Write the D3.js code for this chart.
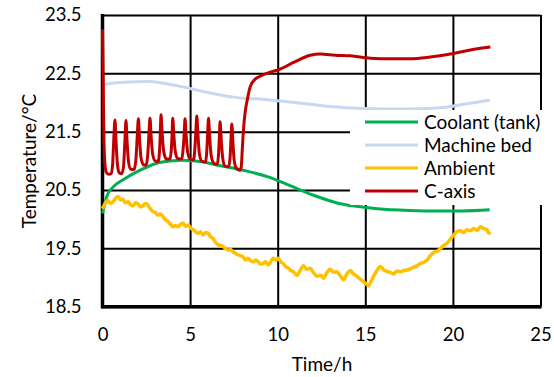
<!DOCTYPE html>
<html>
<head>
<meta charset="utf-8">
<script src="https://cdn.jsdelivr.net/npm/d3@7"></script>
<style>
  body { margin: 0; background: #fff; }
  svg text { font-family: "Lato", "Liberation Sans", sans-serif; fill: #000; }
</style>
</head>
<body>
<svg width="554" height="377"></svg>
<script>
// tick labels
const xTicks = [0, 5, 10, 15, 20, 25];
const yTicks = [18.5, 19.5, 20.5, 21.5, 22.5, 23.5];

const seriesNames = ["Coolant (tank)", "Machine bed", "Ambient", "C-axis"];

// [time h, temperature °C]
const coolant = [
    [0, 20.10], [0.1, 20.22], [0.24, 20.39], [0.6, 20.55], [1.2, 20.68], [2.15, 20.84],
    [3.1, 20.96], [4.0, 21.0], [4.4, 21.01], [5.57, 20.99], [6.5, 20.93], [7.7, 20.86],
    [8.3, 20.82], [9.5, 20.72], [10.5, 20.6], [12.05, 20.41], [13.5, 20.27], [14.5, 20.22],
    [15.7, 20.18], [17.5, 20.15], [19.3, 20.14], [20.5, 20.14], [22.1, 20.16]
];

const machineBed = [
    [0, 22.30], [0.5, 22.33], [1.5, 22.35], [2.6, 22.36], [3.5, 22.33], [5.0, 22.24],
    [6.0, 22.17], [7.3, 22.10], [8.1, 22.07], [9.0, 22.06], [10.0, 22.03], [11.9, 21.97],
    [13.0, 21.93], [14.0, 21.91], [15.8, 21.89], [17.6, 21.89], [19.6, 21.92], [20.8, 21.98],
    [22.1, 22.04]
];

const ambient = [
    [0, 20.18], [0.15, 20.27], [0.31, 20.32], [0.45, 20.27], [0.6, 20.30], [0.75, 20.36],
    [0.89, 20.39], [1.03, 20.33], [1.17, 20.34], [1.3, 20.28], [1.46, 20.30], [1.6, 20.25],
    [1.74, 20.23], [1.9, 20.28], [2.03, 20.26], [2.17, 20.21], [2.31, 20.23], [2.45, 20.27],
    [2.6, 20.24], [2.75, 20.17], [2.89, 20.13], [3.03, 20.11], [3.17, 20.07], [3.3, 20.09],
    [3.46, 20.04], [3.6, 19.99], [3.74, 19.96], [3.88, 19.91], [4.03, 19.87], [4.17, 19.89],
    [4.31, 19.87], [4.45, 19.91], [4.6, 19.93], [4.75, 19.88], [4.89, 19.90], [5.03, 19.85],
    [5.17, 19.82], [5.3, 19.79], [5.46, 19.76], [5.6, 19.78], [5.74, 19.73], [5.88, 19.77],
    [6.03, 19.76], [6.17, 19.70], [6.31, 19.67], [6.45, 19.60], [6.6, 19.56], [6.75, 19.55],
    [6.89, 19.53], [7.03, 19.49], [7.17, 19.47], [7.3, 19.48], [7.46, 19.44], [7.6, 19.41],
    [7.74, 19.39], [7.9, 19.37], [8.03, 19.35], [8.17, 19.30], [8.31, 19.33], [8.45, 19.29],
    [8.6, 19.27], [8.75, 19.30], [8.89, 19.27], [9.03, 19.23], [9.17, 19.24], [9.3, 19.27],
    [9.46, 19.22], [9.6, 19.27], [9.74, 19.33], [9.88, 19.30], [10.03, 19.33], [10.17, 19.27],
    [10.31, 19.24], [10.45, 19.19], [10.6, 19.16], [10.75, 19.12], [10.89, 19.10], [11.1, 19.04],
    [11.3, 19.13], [11.47, 19.20], [11.66, 19.14], [11.86, 19.16], [12.05, 19.08], [12.24, 19.02],
    [12.45, 19.04], [12.62, 18.99], [12.8, 19.08], [13.0, 19.14], [13.2, 19.09], [13.38, 19.10],
    [13.57, 19.03], [13.76, 18.96], [13.95, 19.06], [14.14, 19.12], [14.33, 19.06], [14.53, 19.02],
    [14.72, 18.97], [14.9, 18.93], [15.05, 18.89], [15.19, 18.86], [15.33, 18.94], [15.47, 19.02],
    [15.66, 19.12], [15.86, 19.19], [16.05, 19.13], [16.24, 19.10], [16.43, 19.09], [16.62, 19.06],
    [16.8, 19.11], [17.0, 19.10], [17.2, 19.12], [17.38, 19.13], [17.57, 19.15], [17.76, 19.18],
    [17.95, 19.20], [18.14, 19.24], [18.33, 19.26], [18.53, 19.30], [18.7, 19.37], [18.9, 19.43],
    [19.1, 19.45], [19.29, 19.50], [19.48, 19.55], [19.67, 19.59], [19.86, 19.66], [20.05, 19.73],
    [20.24, 19.79], [20.43, 19.80], [20.62, 19.77], [20.81, 19.82], [21.0, 19.80], [21.19, 19.84],
    [21.38, 19.81], [21.57, 19.87], [21.76, 19.84], [21.95, 19.82], [22.05, 19.76], [22.14, 19.78]
];

const cAxis = [
    [0, 23.25], [0.04, 22.4], [0.08, 21.4], [0.14, 20.95], [0.22, 20.8], [0.35, 20.77],
    [0.5, 20.78], [0.58, 20.95], [0.65, 21.4], [0.71, 21.70], [0.77, 21.35], [0.85, 20.95],
    [0.95, 20.8], [1.1, 20.78], [1.2, 20.9], [1.28, 21.35], [1.34, 21.69], [1.40, 21.35],
    [1.48, 21.0], [1.6, 20.86], [1.8, 20.85], [1.9, 21.0], [1.98, 21.4], [2.05, 21.72],
    [2.11, 21.4], [2.2, 21.05], [2.35, 20.93], [2.5, 20.93], [2.58, 21.1], [2.65, 21.45],
    [2.71, 21.73], [2.77, 21.45], [2.86, 21.12], [3.0, 21.0], [3.18, 20.99], [3.26, 21.2],
    [3.3, 21.5], [3.34, 21.79], [3.40, 21.5], [3.5, 21.15], [3.65, 21.03], [3.85, 21.03],
    [3.93, 21.2], [3.97, 21.45], [4.01, 21.73], [4.07, 21.45], [4.16, 21.15], [4.3, 21.04],
    [4.53, 21.03], [4.6, 21.2], [4.66, 21.45], [4.71, 21.72], [4.77, 21.45], [4.86, 21.15],
    [5.0, 21.03], [5.2, 21.02], [5.27, 21.2], [5.33, 21.5], [5.38, 21.77], [5.44, 21.5],
    [5.53, 21.12], [5.68, 20.99], [5.88, 20.98], [5.95, 21.15], [6.0, 21.45], [6.05, 21.73],
    [6.11, 21.45], [6.2, 21.1], [6.35, 20.96], [6.55, 20.94], [6.62, 21.1], [6.67, 21.4],
    [6.71, 21.67], [6.77, 21.4], [6.86, 21.05], [7.0, 20.91], [7.2, 20.9], [7.28, 21.05],
    [7.33, 21.35], [7.38, 21.63], [7.44, 21.35], [7.52, 21.0], [7.65, 20.87], [7.85, 20.84],
    [7.92, 20.9], [7.98, 21.2], [8.05, 21.55], [8.15, 21.85], [8.26, 22.04], [8.43, 22.27],
    [8.71, 22.40], [9.0, 22.45], [9.57, 22.52], [10.03, 22.56], [11.0, 22.70], [11.86, 22.81],
    [12.43, 22.83], [13.29, 22.81], [14.14, 22.80], [15.29, 22.76], [16.43, 22.75], [17.57, 22.75],
    [18.71, 22.78], [20.03, 22.84], [21.0, 22.90], [22.14, 22.95]
];

const colors = ["#00B050", "#C6D9F1", "#FFC000", "#C00000"];

var svg = d3.select("svg");
var x = d3.scaleLinear().domain([0, 25]).range([102.5, 540.5]);
var y = d3.scaleLinear().domain([18.5, 23.5]).range([306.7, 15]);

// grid + labels
svg.append("g")
    .attr("transform", "translate(" + x(0) + ",0)")
    .call(d3.axisLeft(y).tickValues(yTicks).tickSize(-(x(25) - x(0))).tickPadding(21)
        .tickFormat(d3.format(".1f")))
    .call(g => g.select(".domain").remove())
    .call(g => g.selectAll("line").attr("stroke", "#000").attr("stroke-width", 2))
    .call(g => g.selectAll("text").attr("font-size", 18.5));

svg.append("g")
    .attr("transform", "translate(0," + y(18.5) + ")")
    .call(d3.axisBottom(x).tickValues(xTicks).tickSize(-(y(18.5) - y(23.5))).tickPadding(21)
        .tickFormat(d3.format("d")))
    .call(g => g.select(".domain").remove())
    .call(g => g.selectAll("line").attr("stroke", "#000").attr("stroke-width", 2))
    .call(g => g.selectAll("text").attr("font-size", 18.5));

// thicker left / bottom axes
svg.append("line").attr("x1", x(0)).attr("x2", x(0)).attr("y1", y(23.5) - 1).attr("y2", y(18.5) + 1.5)
    .attr("stroke", "#000").attr("stroke-width", 3.5);
svg.append("line").attr("x1", x(0) - 1.5).attr("x2", x(25) + 1).attr("y1", y(18.5)).attr("y2", y(18.5))
    .attr("stroke", "#000").attr("stroke-width", 3.5);

var line = d3.line()
    .x(d => x(d[0]))
    .y(d => y(d[1]))
    .curve(d3.curveMonotoneX);

const data = [coolant, machineBed, ambient, cAxis];
const drawOrder = [1, 0, 2, 3];

svg.append("g").selectAll("path")
    .data(drawOrder)
    .enter().append("path")
    .attr("d", i => line(data[i]))
    .attr("fill", "none")
    .attr("stroke", i => colors[i])
    .attr("stroke-width", i => i === 2 ? 3.5 : 3)
    .attr("stroke-linejoin", "round");

// legend
var legend = svg.append("g");
legend.append("rect")
    .attr("x", 350).attr("y", 110).attr("width", 200).attr("height", 95)
    .attr("fill", "#fff");

var item = legend.selectAll("g.item")
    .data(seriesNames)
    .enter().append("g")
    .attr("class", "item")
    .attr("transform", (d, i) => "translate(0," + (122 + i * 23) + ")");

item.append("line")
    .attr("x1", 365).attr("x2", 418)
    .attr("stroke", (d, i) => colors[i])
    .attr("stroke-width", 3);

item.append("text")
    .attr("x", 424).attr("dy", "0.36em")
    .attr("font-size", 19)
    .text(d => d);

// axis titles
svg.append("text")
    .attr("x", 322).attr("y", 371)
    .attr("text-anchor", "middle")
    .attr("font-size", 19)
    .text("Time/h");

svg.append("text")
    .attr("transform", "translate(29,161) rotate(-90)")
    .attr("text-anchor", "middle")
    .attr("dy", "0.35em")
    .attr("font-size", 19)
    .text("Temperature/°C");
</script>
</body>
</html>
